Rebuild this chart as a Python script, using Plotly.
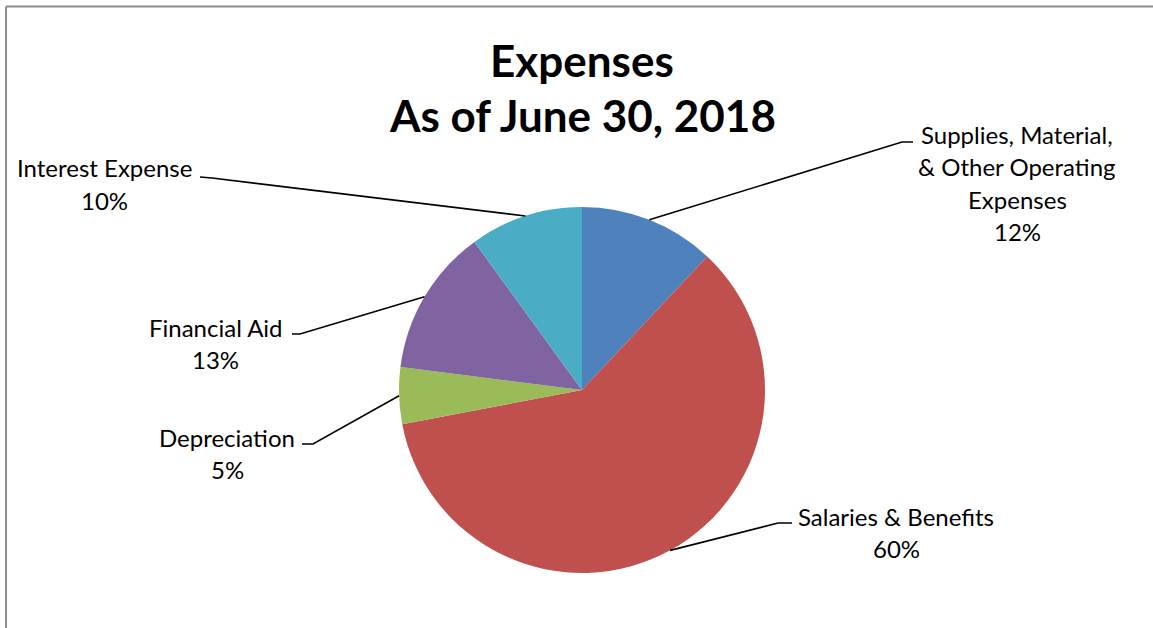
import math
import plotly.graph_objects as go

# ---- data ----
categories = ["Supplies, Material,<br>& Other Operating<br>Expenses", "Salaries & Benefits",
              "Depreciation", "Financial Aid", "Interest Expense"]
values = [12, 60, 5, 13, 10]
pct_labels = ["12%", "60%", "5%", "13%", "10%"]
colors = ["#4F81BD", "#C0504D", "#9BBB59", "#8064A2", "#4BACC6"]
title_lines = ["Expenses", "As of June 30, 2018"]

W, H = 1153, 628
FONT = "Lato"

def px(x):
    return x / W

def py(y):
    return 1 - y / H

# pie geometry (pixels)
cx, cy, R = 582, 390, 183

fig = go.Figure(go.Pie(
    labels=[c.replace("<br>", " ") for c in categories],
    values=values,
    sort=False,
    direction="clockwise",
    rotation=0,
    marker=dict(colors=colors, line=dict(width=0)),
    textinfo="none",
    hoverinfo="label+percent",
    showlegend=False,
    domain=dict(x=[px(cx - R), px(cx + R)], y=[py(cy + R), py(cy - R)]),
))

# label layout: (center x, first line y, elbow point, end point)
label_layout = [
    (1017, 134, (902, 142), (913, 142)),
    (896, 516, (778, 523), (792, 523)),
    (227, 437, (313, 444), (302, 444)),
    (216, 327, (300, 334), (292, 334)),
    (104, 168, (212, 178), (200, 177)),
]
line_gap = 32.5

annotations = []
shapes = []
total = sum(values)
cum = 0
for i, v in enumerate(values):
    mid = (cum + v / 2) / total * 2 * math.pi
    cum += v
    sx = cx + R * math.sin(mid)
    sy = cy - R * math.cos(mid)
    lx, ly, (ex, ey), (tx, ty) = label_layout[i]
    path = f"M {px(sx)} {py(sy)} L {px(ex)} {py(ey)} L {px(tx)} {py(ty)}"
    shapes.append(dict(type="path", path=path, xref="paper", yref="paper",
                       line=dict(color="black", width=1.6)))
    lines = categories[i].split("<br>") + [pct_labels[i]]
    for j, t in enumerate(lines):
        annotations.append(dict(text=t, x=px(lx), y=py(ly + j * line_gap), xref="paper", yref="paper",
                                xanchor="center", yanchor="middle", showarrow=False,
                                font=dict(family=FONT, size=24, color="black")))

for j, t in enumerate(title_lines):
    annotations.append(dict(text=f"<b>{t}</b>", x=px(582), y=py(60 + j * 55), xref="paper", yref="paper",
                            xanchor="center", yanchor="middle", showarrow=False,
                            font=dict(family=FONT, size=44, color="black")))

# outer border (top and left visible)
shapes.append(dict(type="line", xref="paper", yref="paper", x0=px(6), x1=1, y0=py(6.5), y1=py(6.5),
                   line=dict(color="#8C8C8C", width=2)))
shapes.append(dict(type="line", xref="paper", yref="paper", x0=px(6), x1=px(6), y0=py(6.5), y1=0,
                   line=dict(color="#8C8C8C", width=2)))

fig.update_layout(
    width=W, height=H,
    margin=dict(l=0, r=0, t=0, b=0),
    paper_bgcolor="white",
    plot_bgcolor="white",
    annotations=annotations,
    shapes=shapes,
)

fig.write_html("out.html", config={"displayModeBar": False},
               post_script="document.body.style.margin='0';document.body.style.overflow='hidden';")
